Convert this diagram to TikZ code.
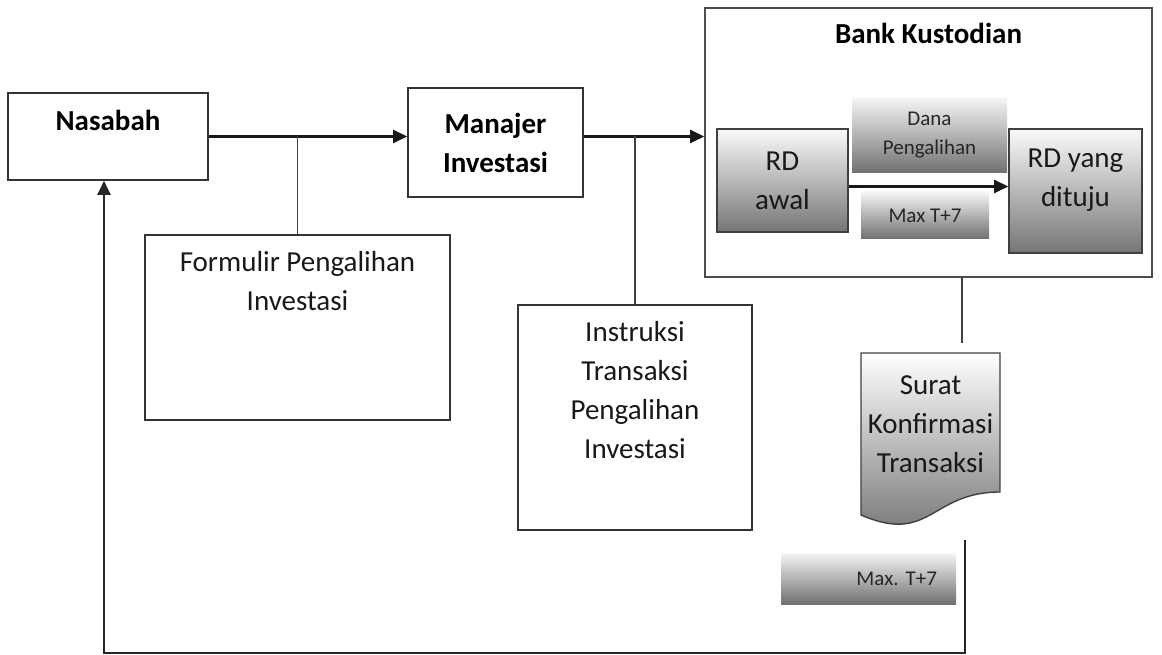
\documentclass[tikz,border=0pt]{standalone}
\usepackage{fontspec}
\setmainfont{Carlito}
\usetikzlibrary{positioning,arrows.meta}

\begin{document}
\begin{tikzpicture}[x=1pt,y=1pt,
  every node/.append style={inner sep=0pt},
  txt/.style={font=\fontsize{29}{39}\selectfont, text=black!90},
  boldtxt/.style={font=\fontsize{29}{39}\selectfont\bfseries, text=black},
  smalltxt/.style={font=\fontsize{21}{29}\selectfont, text=black!85},
  box/.style={draw=black!80, line width=1.6pt, fill=white},
  rdbox/.style={draw=black!75, line width=1.6pt, top color=black!2, bottom color=black!54},
  tag/.style={smalltxt, top color=black!4, bottom color=black!56},
  docshade/.style={draw=black!75, line width=1.4pt, top color=white, bottom color=black!56},
  flow/.style={line width=2.4pt, draw=black!90, -{Triangle[length=14pt,width=13pt]}},
  tap/.style={line width=1.8pt, draw=black!75}]
\useasboundingbox (0,0) rectangle (1162,-655);

\node[box, minimum width=200, minimum height=87] (nasabah) at (108,-136.5) {};
\node[boldtxt, below=18pt of nasabah.north] (nasabahtxt) {Nasabah};
\node[box, boldtxt, align=center, minimum width=175, minimum height=109] (manajer) at (495.5,-142.5) {Manajer\\Investasi};

\node[box, minimum width=305, minimum height=185] (formulir) at (297.5,-327.5) {};
\node[txt, align=center, below=17pt of formulir.north] (formulirtxt) {Formulir Pengalihan\\Investasi};
\node[box, minimum width=234, minimum height=225] (instruksi) at (635,-417.5) {};
\node[txt, align=center, below=17pt of instruksi.north] (instruksitxt) {Instruksi\\Transaksi\\Pengalihan\\Investasi};

% bank kustodian
\node[box, draw=black!70, minimum width=447, minimum height=269] (bank) at (928.5,-142.5) {};
\node[boldtxt, below=16pt of bank.north] (banktxt) {Bank Kustodian};
\node[rdbox, txt, align=center, minimum width=131, minimum height=103] (rdawal) at (782.5,-180.5) {RD\\awal};
\node[rdbox, minimum width=133, minimum height=124] (rdtuju) at (1075.5,-191) {};
\node[txt, align=center] (rdtujutxt) at (rdawal -| rdtuju) {RD yang\\dituju};
\node[tag, align=center, minimum width=155, minimum height=75] (dana) at (929.5,-135.5) {Dana\\Pengalihan};
\node[tag, minimum width=128, minimum height=47] (maxa) at (925,-215.5) {Max T+7};

% surat konfirmasi
\shadedraw[docshade] (861,-353) -- (1000,-353) -- (1000,-492) .. controls (930.5,-492) and (930.5,-545) .. (861,-515) -- cycle;
\coordinate (doctop) at (962,-353);
\node[txt, align=center] (surat) at (930.5,-424) {Surat\\Konfirmasi\\Transaksi};
\node[tag, inner xsep=19pt, text width=137pt, align=right, minimum height=51] (maxb) at (868.5,-578.5) {Max.\ T+7};

\draw[flow] (nasabah.east) -- (nasabah.east -| manajer.west);
\draw[tap] (formulir.north) -- (formulir.north |- nasabah.east);
\draw[flow] (manajer.east |- nasabah.east) -- (nasabah.east -| bank.west);
\draw[tap] (instruksi.north) -- (instruksi.north |- nasabah.east);
\draw[flow] ([yshift=-6pt]rdawal.east) -- ([yshift=-6pt]rdawal.east -| rdtuju.west);
\draw[tap] (bank.south -| doctop) -- ([yshift=10pt]doctop);
\coordinate (docfoot) at (965,-540);
\coordinate (corner) at (104,-653);
\draw[tap, line width=2pt, draw=black!85, -{Triangle[length=14pt,width=13pt]}] (docfoot) |- (corner) -- (corner |- nasabah.south);
\end{tikzpicture}
\end{document}
